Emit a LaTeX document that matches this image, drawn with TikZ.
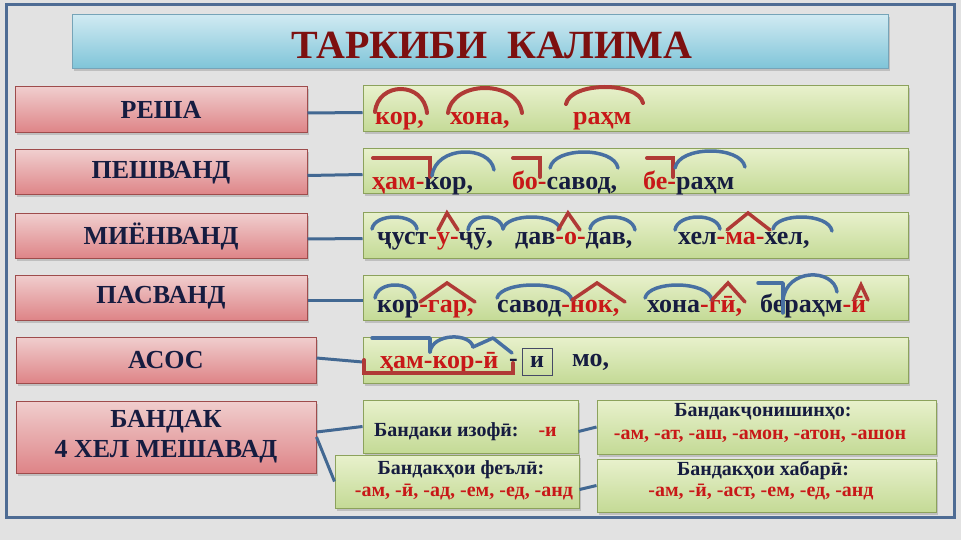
\documentclass[tikz,border=0pt]{standalone}
\usepackage{fontspec}
\setmainfont{Liberation Serif}
\usetikzlibrary{shadows}
\definecolor{bg}{RGB}{226,226,226}
\definecolor{framec}{RGB}{78,108,148}
\definecolor{navy}{RGB}{22,28,64}
\definecolor{txtred}{RGB}{200,24,24}
\definecolor{titlered}{RGB}{125,16,16}
\definecolor{pinktop}{RGB}{240,206,206}
\definecolor{pinkbot}{RGB}{222,132,135}
\definecolor{pinkborder}{RGB}{158,76,76}
\definecolor{greentop}{RGB}{232,241,204}
\definecolor{greenbot}{RGB}{196,218,150}
\definecolor{greenborder}{RGB}{140,162,92}
\definecolor{titletop}{RGB}{208,234,242}
\definecolor{titlebot}{RGB}{126,196,216}
\definecolor{titleborder}{RGB}{118,164,184}
\definecolor{arcred}{RGB}{176,58,54}
\definecolor{arcblue}{RGB}{72,112,162}
\definecolor{connc}{RGB}{66,104,146}
\newcommand{\mkarc}[6]{%
  \pgfmathsetmacro{\myarcc}{(#6-0.125*(#3+#5))/0.75}%
  \draw[#1] (#2,#3) .. controls ({#2+0.06*(#4-#2)},\myarcc) and ({#4-0.06*(#4-#2)},\myarcc) .. (#4,#5);%
}
\tikzset{
  boxshadow/.style={drop shadow={shadow xshift=2pt,shadow yshift=-2.5pt,opacity=.35}},
  pinkbox/.style={rectangle, draw=pinkborder, line width=1, top color=pinktop, bottom color=pinkbot,
    text=navy, font=\fontsize{26}{30}\selectfont\bfseries, align=center, boxshadow},
  greenbox/.style={rectangle, draw=greenborder, line width=1, top color=greentop, bottom color=greenbot, boxshadow},
  titlebox/.style={rectangle, draw=titleborder, line width=1, top color=titletop, bottom color=titlebot, boxshadow},
  titletext/.style={inner sep=0, text=titlered, font=\fontsize{40}{43}\selectfont\bfseries},
  word/.style={inner sep=0, anchor=base west, text=navy, font=\fontsize{26}{30}\selectfont\bfseries},
  small/.style={inner sep=0, text=navy, font=\fontsize{20}{23}\selectfont\bfseries},
  redarc/.style={draw=arcred, line width=4, line cap=round},
  bluearc/.style={draw=arcblue, line width=3.5, line cap=round, line join=round},
  caretmark/.style={draw=arcred, line width=3.5, line cap=round, line join=miter},
  conn/.style={draw=connc, line width=3},
}
\begin{document}
\begin{tikzpicture}[x=1pt,y=-1pt]
\useasboundingbox (0,0) rectangle (961,540);
\fill[bg] (0,0) rectangle (961,540);
\draw[framec, line width=3] (6,5) rectangle (954,517);

% title
\node[titlebox, minimum width=816, minimum height=54] (title) at (480,42) {};
\node[titletext] (titletxt) at (492,45) {ТАРКИБИ\ \ КАЛИМА};

% left boxes
\node[pinkbox, minimum width=292, minimum height=46] (p1) at (161,109.5) {РЕША};
\node[pinkbox, minimum width=292, minimum height=45] (p2) at (161,172.5) {ПЕШВАНД};
\node[pinkbox, minimum width=292, minimum height=45] (p3) at (161,236) {МИЁНВАНД};
\node[pinkbox, minimum width=292, minimum height=45] (p4) at (161,297.5) {ПАСВАНД};
\node[pinkbox, minimum width=300, minimum height=46] (p5) at (166,360) {АСОС};
\node[pinkbox, minimum width=300, minimum height=72] (p6) at (166,437) {БАНДАК\\4 ХЕЛ МЕШАВАД};

% right boxes
\node[greenbox, minimum width=545, minimum height=46] (g1) at (635.5,109) {};
\node[greenbox, minimum width=545, minimum height=45] (g2) at (635.5,171.5) {};
\node[greenbox, minimum width=545, minimum height=45] (g3) at (635.5,235.5) {};
\node[greenbox, minimum width=545, minimum height=45] (g4) at (635.5,297.5) {};
\node[greenbox, minimum width=545, minimum height=46] (g5) at (635.5,360) {};

% connectors rows
\draw[conn] ([yshift=-3.5pt]p1.east) -- ([yshift=-3.5pt]g1.west);
\draw[conn] ([yshift=-3pt]p2.east) -- ([yshift=-3pt]g2.west);
\draw[conn] ([yshift=-3pt]p3.east) -- ([yshift=-3pt]g3.west);
\draw[conn] ([yshift=-3pt]p4.east) -- ([yshift=-3pt]g4.west);
\draw[conn] ([yshift=2pt]p5.east) -- ([yshift=-2pt]g5.west);

% bottom boxes
\node[greenbox, minimum width=215, minimum height=53] (izofi) at (470.5,426.5) {};
\node[greenbox, minimum width=244, minimum height=53] (feli) at (457,481.5) {};
\node[greenbox, minimum width=339, minimum height=54] (jon) at (766.5,427) {};
\node[greenbox, minimum width=339, minimum height=53] (xab) at (766.5,485.5) {};
\draw[conn] ([yshift=5pt]p6.east) -- (izofi.west);
\draw[conn] (p6.east) -- (feli.west);
\draw[conn] ([yshift=-5pt]izofi.east) -- (jon.west);
\draw[conn] ([yshift=-8pt]feli.east) -- (xab.west);

\node[small, anchor=west] (iz1) at (374,432) {Бандаки изофӣ:\quad\textcolor{txtred}{-и}};
\node[small] (fe1) at (461,470) {Бандакҳои феълӣ:};
\node[small, text=txtred] (fe2) at (464,492) {-ам, -ӣ, -ад, -ем, -ед, -анд};
\node[small] (jo1) at (763,412) {Бандакҷонишинҳо:};
\node[small, text=txtred] (jo2) at (760,436) {-ам, -ат, -аш, -амон, -атон, -ашон};
\node[small] (xa1) at (763,470) {Бандакҳои хабарӣ:};
\node[small, text=txtred] (xa2) at (761,492) {-ам, -ӣ, -аст, -ем, -ед, -анд};

% row 1 words
\node[word, text=txtred] (w11) at (375,125) {кор,};
\node[word, text=txtred] (w12) at (450,125) {хона,};
\node[word, text=txtred] (w13) at (573,125) {раҳм};
% row 2
\node[word] (w21) at (372,190) {\textcolor{txtred}{ҳам-}кор,};
\node[word] (w22) at (512,190) {\textcolor{txtred}{бо-}савод,};
\node[word] (w23) at (643,190) {\textcolor{txtred}{бе-}раҳм};
% row 3
\node[word] (w31) at (377,244) {ҷуст\textcolor{txtred}{-у-}ҷӯ,};
\node[word] (w32) at (515,244) {дав\textcolor{txtred}{-о-}дав,};
\node[word] (w33) at (678,244) {хел\textcolor{txtred}{-ма-}хел,};
% row 4
\node[word] (w41) at (377,312) {кор\textcolor{txtred}{-гар,}};
\node[word] (w42) at (497,312) {савод\textcolor{txtred}{-нок,}};
\node[word] (w43) at (647,312) {хона\textcolor{txtred}{-гӣ,}};
\node[word] (w44) at (760,312) {бераҳм\textcolor{txtred}{-ӣ}};
% row 5
\node[word, text=txtred] (w51) at (380,368) {ҳам-кор-ӣ};
\node[word] (w52) at (509,366) {-};
\node[draw=navy!80, line width=1, minimum width=30, minimum height=27, inner sep=0, text=navy,
      font=\fontsize{24}{28}\selectfont\bfseries] (w53) at (537,361.5) {и};
\node[word] (w54) at (572,366) {мо,};

% row 1 marks
\mkarc{redarc}{375}{112}{427}{113}{89}
\mkarc{redarc}{448}{113}{522}{113}{88}
\mkarc{redarc}{566}{104}{643}{103}{87}
% row 2 marks
\draw[redarc] (373,158) -- (430,158) -- (430,177);
\mkarc{bluearc}{432}{176}{494}{170}{152}
\draw[redarc] (513,158) -- (540,158) -- (540,177);
\mkarc{bluearc}{550}{168}{618}{168}{152}
\draw[redarc] (647,158) -- (673,158) -- (673,177);
\mkarc{bluearc}{675}{168}{745}{167}{151}
% row 3 marks
\mkarc{bluearc}{372}{229}{417}{229}{217}
\draw[caretmark] (438,230) -- (447,213) -- (458,230);
\mkarc{bluearc}{468}{230}{503}{229}{217}
\mkarc{bluearc}{503}{229}{560}{229}{217}
\draw[caretmark] (558,230) -- (568,213) -- (580,230);
\mkarc{bluearc}{590}{229}{635}{230}{217}
\mkarc{bluearc}{675}{230}{720}{229}{217}
\draw[caretmark] (727,230) -- (748,213) -- (770,230);
\mkarc{bluearc}{773}{229}{832}{231}{217}
% row 4 marks
\mkarc{bluearc}{375}{298}{415}{298}{285}
\draw[caretmark] (420,302) -- (447,283) -- (475,302);
\mkarc{bluearc}{497}{298}{572}{300}{285}
\draw[caretmark] (572,300) -- (597,283) -- (625,302);
\mkarc{bluearc}{645}{298}{712}{300}{285}
\draw[caretmark] (712,300) -- (728,283) -- (745,302);
\draw[bluearc] (758,283) -- (783,283) -- (783,313);
\mkarc{bluearc}{783}{300}{837}{292}{275}
\draw[caretmark] (854,300) -- (861,285) -- (868,300);
% row 5 marks
\draw[redarc] (364,360) -- (364,373) -- (513,373) -- (513,363);
\draw[bluearc] (372,338) -- (430,338) -- (430,352);
\mkarc{bluearc}{430}{352}{473}{347}{337}
\draw[bluearc] (473,347) -- (493,338) -- (512,353);
\end{tikzpicture}
\end{document}
